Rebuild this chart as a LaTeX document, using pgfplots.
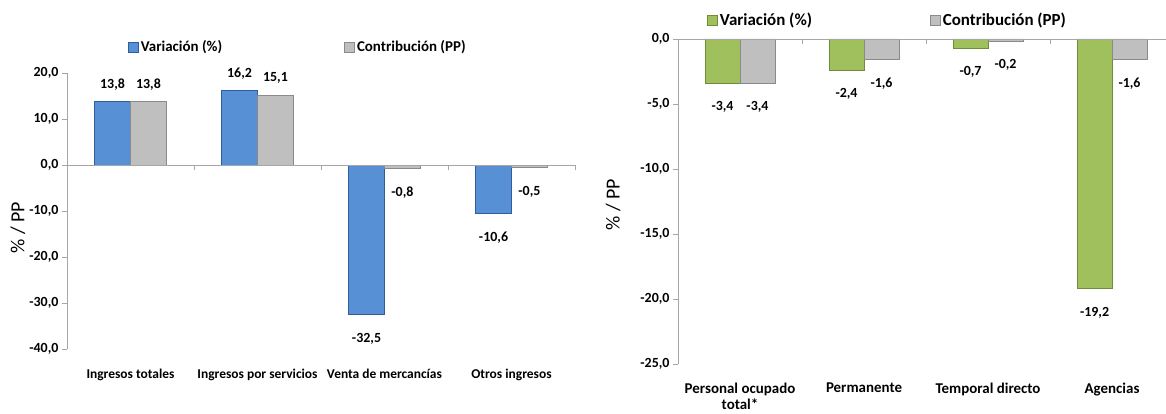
\documentclass[border=0pt]{standalone}
\usepackage{fontspec}
\setmainfont{Carlito}
\usepackage{pgfplots}
\pgfplotsset{compat=1.18}
\definecolor{bluem}{HTML}{5890D6}
\definecolor{blued}{HTML}{2E5E9C}
\definecolor{grym}{HTML}{BFBFBF}
\definecolor{gryd}{HTML}{8A8A8A}
\definecolor{grnm}{HTML}{9FC05C}
\definecolor{grnd}{HTML}{6F8C38}
\definecolor{axgray}{HTML}{A6A6A6}
\pgfkeys{/pgf/number format/.cd, fixed, fixed zerofill, precision=1, use comma, assume math mode=true}
\pgfplotsset{
  mychart/.style={
    scale only axis, clip=false,
    axis y line*=left,
    axis x line*=bottom, x axis line style={draw=none},
    xtick={0,1,2,3}, major x tick style={draw=none},
    y axis line style={draw=axgray, line width=0.9pt},
    ytick style={draw=axgray, line width=0.9pt},
    tick align=outside, major tick length=5bp,
    yticklabel style={font=\bfseries\fontsize{14}{16}\selectfont, text=black},
    ylabel style={font=\fontsize{20}{22}\selectfont, anchor=center},
    legend columns=2,
    legend style={draw=none, fill=none, anchor=west, inner sep=0pt},
    legend image code/.code={\path[##1] (0bp,-5bp) rectangle (10bp,5bp);},
  },
  bluebar/.style={ybar, fill=bluem, draw=blued, line width=0.8pt},
  grybar/.style={ybar, fill=grym, draw=gryd, line width=0.8pt},
  grnbar/.style={ybar, fill=grnm, draw=grnd, line width=0.8pt},
  lbl/.style={forget plot, draw=none, mark=none, nodes near coords, point meta=explicit,
    every node near coord/.append style={anchor=center, text=black, font=\bfseries\fontsize{14}{16}\selectfont}},
}
\begin{document}
\begin{tikzpicture}
\useasboundingbox (0,0) rectangle (1166bp,414bp);
% ---------------- left chart ----------------
\begin{axis}[mychart,
  at={(67bp,65bp)}, anchor=south west,
  width=508bp, height=276bp,
  xmin=-0.5, xmax=3.5, ymin=-40, ymax=20,
  ytick={-40,-30,-20,-10,0,10,20},
  xticklabels={Ingresos totales, Ingresos por servicios, Venta de mercancías, Otros ingresos},
  xticklabel style={font=\bfseries\fontsize{13.5}{15}\selectfont, text=black, yshift=-12bp},
  ylabel={\% / PP},
  ylabel style={at={(axis description cs:-0.0965,0.44)}},
  legend style={at={(0.12,1.094)}, font=\bfseries\fontsize{15}{17}\selectfont,
    /tikz/every even column/.append style={column sep=120bp}},
]
\addplot[bluebar, bar width=0.283, bar shift=-0.1415] coordinates {(0,13.8) (1,16.2) (2,-32.5) (3,-10.6)};
\addplot[grybar, bar width=0.283, bar shift=0.1415] coordinates {(0,13.8) (1,15.1) (2,-0.8) (3,-0.5)};
\legend{Variación (\%), Contribución (PP)}
\addplot[lbl] coordinates {(-0.1415,17.5) [13.8] (0.8585,19.9) [16.2] (1.8585,-37.9) [-32.5] (2.8585,-15.9) [-10.6]};
\addplot[lbl] coordinates {(0.1415,17.5) [13.8] (1.1415,18.9) [15.1] (2.1415,-6.1) [-0.8] (3.1415,-5.8) [-0.5]};
\draw[axgray, line width=0.9pt] (axis cs:-0.5,0) -- (axis cs:3.5,0);
\pgfplotsinvokeforeach{0.5,1.5,2.5,3.5}{\draw[axgray, line width=0.9pt] (axis cs:#1,0) -- ++(0bp,-5bp);}
\end{axis}
% ---------------- right chart ----------------
\begin{axis}[mychart,
  at={(678bp,50bp)}, anchor=south west,
  width=488bp, height=325bp,
  xmin=-0.5, xmax=3.435, ymin=-25, ymax=0,
  ytick={-25,-20,-15,-10,-5,0},
  xticklabels={{Personal ocupado\\total*}, Permanente, Temporal directo, Agencias},
  xticklabel style={font=\bfseries\fontsize{15}{17}\selectfont, text=black, align=center, yshift=-10bp},
  ylabel={\% / PP},
  ylabel style={at={(axis description cs:-0.133,0.49)}},
  legend style={at={(0.0594,1.058)}, font=\bfseries\fontsize{17}{19}\selectfont,
    /tikz/every even column/.append style={column sep=116bp}},
]
\addplot[grnbar, bar width=0.282, bar shift=-0.141] coordinates {(0,-3.4) (1,-2.4) (2,-0.7) (3,-19.2)};
\addplot[grybar, bar width=0.282, bar shift=0.141] coordinates {(0,-3.4) (1,-1.6) (2,-0.2) (3,-1.6)};
\legend{Variación (\%), Contribución (PP)}
\addplot[lbl] coordinates {(-0.141,-5.25) [-3.4] (0.859,-4.25) [-2.4] (1.859,-2.5) [-0.7] (2.859,-21.1) [-19.2]};
\addplot[lbl] coordinates {(0.141,-5.25) [-3.4] (1.141,-3.45) [-1.6] (2.141,-2.0) [-0.2] (3.141,-3.45) [-1.6]};
\draw[axgray, line width=0.9pt] (axis cs:-0.5,0) -- (axis cs:3.435,0);
\pgfplotsinvokeforeach{0.5,1.5,2.5}{\draw[axgray, line width=0.9pt] (axis cs:#1,0) -- ++(0bp,-5bp);}
\end{axis}
\end{tikzpicture}
\end{document}
